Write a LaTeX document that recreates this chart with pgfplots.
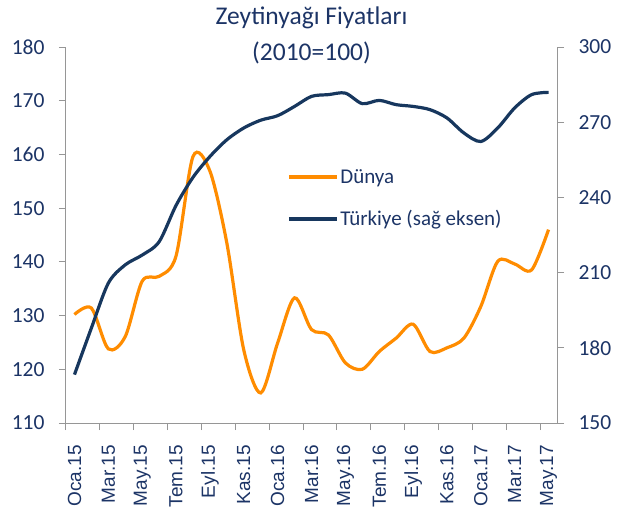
\documentclass[border=0pt]{standalone}
\usepackage{pgfplots}
\pgfplotsset{compat=1.18}
\usepackage{pgfplotstable}
\usepackage{fontspec}
\setmainfont{Carlito}
\newfontfamily\arialf{Liberation Sans}
\usetikzlibrary{calc}
\definecolor{dunya}{RGB}{255,140,0}
\definecolor{turk}{RGB}{23,55,94}
\definecolor{txt}{RGB}{28,52,102}
\definecolor{axgray}{RGB}{150,150,150}

\pgfplotstableread{
i dunya turkiye
0 130.2 169.3
1 131.4 187.9
2 123.8 205.8
3 126.1 213.1
4 136.4 217.0
5 137.3 222.3
6 141.1 236.8
7 159.6 248.0
8 156.9 256.3
9 143.5 263.0
10 123.6 267.7
11 115.6 270.8
12 124.9 272.6
13 133.3 276.3
14 127.4 280.3
15 126.4 281.0
16 121.2 281.6
17 120.0 277.4
18 123.3 278.7
19 125.8 277.0
20 128.4 276.3
21 123.3 275.0
22 124.0 271.7
23 125.8 265.7
24 131.7 262.3
25 140.1 267.7
26 139.6 275.7
27 138.5 281.0
28 146.0 281.9
}\data

\begin{document}
\begin{tikzpicture}
\pgfplotsset{
  every axis/.append style={
    scale only axis, width=491pt, height=376pt,
    xmin=-0.5, xmax=28.5,
    axis line style={axgray, line width=1pt},
    tick align=outside,
    major tick length=7pt,
    minor tick length=7pt,
    tick style={axgray, line width=1pt},
    yticklabel style={font=\fontsize{21.5}{24}\selectfont, text=txt},
    /pgf/number format/assume math mode=true,
    clip=false,
  }
}
\begin{axis}[name=ax,
  axis y line*=left, axis x line*=bottom,
  ymin=110, ymax=180, ytick={110,120,...,180},
  yticklabel style={xshift=-11pt},
  xtick={0,2,...,28},
  xticklabels={Oca.15,Mar.15,May.15,Tem.15,Eyl.15,Kas.15,Oca.16,Mar.16,May.16,Tem.16,Eyl.16,Kas.16,Oca.17,Mar.17,May.17},
  major x tick style={draw=none},
  minor xtick={-0.5,1.5,...,27.5},
  xticklabel style={font=\arialf\fontsize{19}{22}\selectfont, text=txt, rotate=90, anchor=east, inner sep=0pt},
  xticklabel shift=15pt,
]
\addplot[dunya, line width=3.2pt, smooth, tension=0.5] table[x=i, y=dunya]{\data};
\node[anchor=base, text=txt, font=\fontsize{25.5}{30}\selectfont] at (rel axis cs:0.5,1) [yshift=23pt] {Zeytinyağı Fiyatları};
\node[anchor=base, text=txt, font=\fontsize{25.5}{30}\selectfont] at (rel axis cs:0.5,1) [yshift=-13pt] {(2010=100)};
\end{axis}
\begin{axis}[
  axis y line*=right, axis x line=none,
  ymin=150, ymax=300, ytick={150,180,...,300},
  yticklabel style={xshift=11pt},
  legend style={at={(0.45,0.5975)}, anchor=west, draw=none, fill=none,
    font=\fontsize{21}{24}\selectfont, text=txt, row sep=22pt, inner sep=0pt},
  legend cell align=left,
  legend image code/.code={\draw[#1] (0pt,0pt) -- (48pt,0pt);},
]
\addlegendimage{dunya, line width=3.2pt}
\addlegendentry{Dünya}
\addplot[turk, line width=3.2pt, smooth, tension=0.5] table[x=i, y=turkiye]{\data};
\addlegendentry{Türkiye (sağ eksen)}
\end{axis}
\path[use as bounding box] ($(ax.south west)+(-66pt,-89pt)$) rectangle ($(ax.south west)+(555pt,423pt)$);
\end{tikzpicture}
\end{document}
